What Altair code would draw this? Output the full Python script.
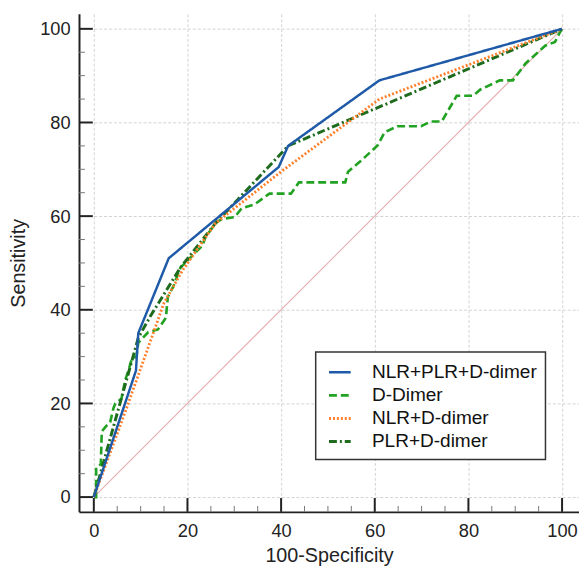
import altair as alt
import pandas as pd

# ---------------- data ----------------
series_names = ["NLR+PLR+D-dimer", "D-Dimer", "NLR+D-dimer", "PLR+D-dimer"]

combo_fpr = [0, 9, 9.5, 16, 39.5, 41.5, 61, 100]
combo_tpr = [0, 27, 35, 51, 70.5, 75, 89, 100]

ddimer_fpr = [0, 0.5, 0.5, 1.5, 1.7, 2.5, 3.5, 4.2, 4.6, 5.9, 6.7, 7.4, 8.1, 9.1, 9.5,
              10.2, 11.6, 13.7, 15.4, 15.8, 17, 18.5, 20, 21.5, 23.2, 23.8, 25.3, 25.9,
              27.4, 30.1, 31.6, 34.3, 37.5, 42.1, 43.8, 53.7, 54.3, 56.8, 57.9, 60.6,
              62.1, 64.8, 69.9, 72, 74.3, 77.5, 81, 82.5, 86.7, 89.5, 92.2, 96.4, 98.5,
              99.4, 100]
ddimer_tpr = [0, 0, 6.3, 7, 14, 15, 16, 19, 20, 21, 25, 27, 29.5, 30, 33,
              33.7, 35.2, 35.8, 38.3, 42.7, 45, 49, 50.5, 52, 53.7, 55.4, 57.5, 58.5,
              59.4, 59.8, 61.7, 62.5, 64.8, 64.8, 67.2, 67.2, 69.5, 71.6, 72.6, 75.1,
              77.9, 79.2, 79.2, 80.2, 80.2, 85.7, 85.7, 87, 89, 89, 92.6, 96.4, 97.2,
              99, 100]

nlr_fpr = [0, 7, 15, 19, 26, 40, 61, 100]
nlr_tpr = [0, 19, 41.5, 48.5, 58.5, 69.5, 85, 100]

plr_fpr = [0, 9.5, 12, 18.5, 26, 41.5, 100]
plr_tpr = [0, 34, 38.5, 49, 58.5, 75, 100]

diag_x = [0, 100]
diag_y = [0, 100]

major_ticks = [0, 20, 40, 60, 80, 100]
minor_ticks = [5, 10, 15, 25, 30, 35, 45, 50, 55, 65, 70, 75, 85, 90, 95]

# ---------------- styling ----------------
colors = ["#1f5aa8", "#22a222", "#ff7f2a", "#1e6b1e"]
dashes = [[1, 0], [8, 4], [2, 2], [8, 3, 2, 3]]
widths = [2.5, 3, 2.5, 2.5]
FONT = "Liberation Sans"
W, H = 507, 505
XDOM = [-3.16, 103.62]
YDOM = [-3.16, 103.2]

rows = []
for name, xs, ys in [
    (series_names[1], ddimer_fpr, ddimer_tpr),
    (series_names[3], plr_fpr, plr_tpr),
    (series_names[2], nlr_fpr, nlr_tpr),
    (series_names[0], combo_fpr, combo_tpr),
]:
    for i, (a, b) in enumerate(zip(xs, ys)):
        rows.append({"series": name, "fpr": a, "tpr": b, "order": i})
df = pd.DataFrame(rows)

xscale = alt.Scale(domain=XDOM, nice=False, zero=False)
yscale = alt.Scale(domain=YDOM, nice=False, zero=False)

legend = alt.Legend(
    title=None, orient="none", legendX=240, legendY=343,
    symbolType="stroke", symbolSize=484, symbolStrokeWidth=2.5,
    symbolOffset=4,
    labelFontSize=19.3, labelFont=FONT, labelColor="#111",
    labelOffset=20, rowPadding=0.4, padding=8,
    strokeColor="#333", fillColor="white", labelLimit=0,
)

diag = alt.Chart(pd.DataFrame({"x": diag_x, "y": diag_y})).mark_line(
    color="#e6b0b0", strokeWidth=1.1
).encode(
    x=alt.X("x:Q", scale=xscale,
            axis=alt.Axis(values=major_ticks, title="100-Specificity")),
    y=alt.Y("y:Q", scale=yscale,
            axis=alt.Axis(values=major_ticks, title="Sensitivity")),
)

lines = alt.Chart(df).mark_line().encode(
    x=alt.X("fpr:Q", scale=xscale),
    y=alt.Y("tpr:Q", scale=yscale),
    order="order:Q",
    color=alt.Color("series:N", scale=alt.Scale(domain=series_names, range=colors),
                    legend=legend),
    strokeDash=alt.StrokeDash("series:N",
                              scale=alt.Scale(domain=series_names, range=dashes),
                              legend=legend),
    strokeWidth=alt.StrokeWidth("series:N",
                                scale=alt.Scale(domain=series_names, range=widths),
                                legend=None),
)

maj_df = pd.DataFrame({"v": major_ticks})
min_df = pd.DataFrame({"v": minor_ticks})

ytick_major = alt.Chart(maj_df).mark_rule(color="#222", strokeWidth=2).encode(
    y=alt.Y("v:Q", scale=yscale), x=alt.value(0), x2=alt.value(14))
ytick_minor = alt.Chart(min_df).mark_rule(color="#777", strokeWidth=1).encode(
    y=alt.Y("v:Q", scale=yscale), x=alt.value(0), x2=alt.value(6))
xtick_major = alt.Chart(maj_df).mark_rule(color="#222", strokeWidth=2).encode(
    x=alt.X("v:Q", scale=xscale), y=alt.value(H), y2=alt.value(H - 14))
xtick_minor = alt.Chart(min_df).mark_rule(color="#777", strokeWidth=1).encode(
    x=alt.X("v:Q", scale=xscale), y=alt.value(H), y2=alt.value(H - 6))

chart = alt.layer(
    diag, lines, ytick_minor, ytick_major, xtick_minor, xtick_major
).properties(
    width=W, height=H,
    padding={"left": 72, "top": 2, "right": 0, "bottom": 54},
    autosize=alt.AutoSizeParams(type="none"),
).configure_view(
    stroke=None
).configure_axis(
    grid=True, gridColor="#d2d2d2", gridDash=[3, 2], gridWidth=1,
    domainColor="#222", domainWidth=2, ticks=False,
    labelFont=FONT, labelFontSize=18.5, labelColor="#222",
    titleFont=FONT, titleFontSize=20, titleFontWeight="normal", titleColor="#222",
).configure_axisX(
    labelPadding=10, titlePadding=6,
).configure_axisY(
    labelPadding=9, titlePadding=11,
).configure_legend(
    strokeWidth=1.5,
)

chart.save("out.html", embed_options={"renderer": "svg", "actions": False})
